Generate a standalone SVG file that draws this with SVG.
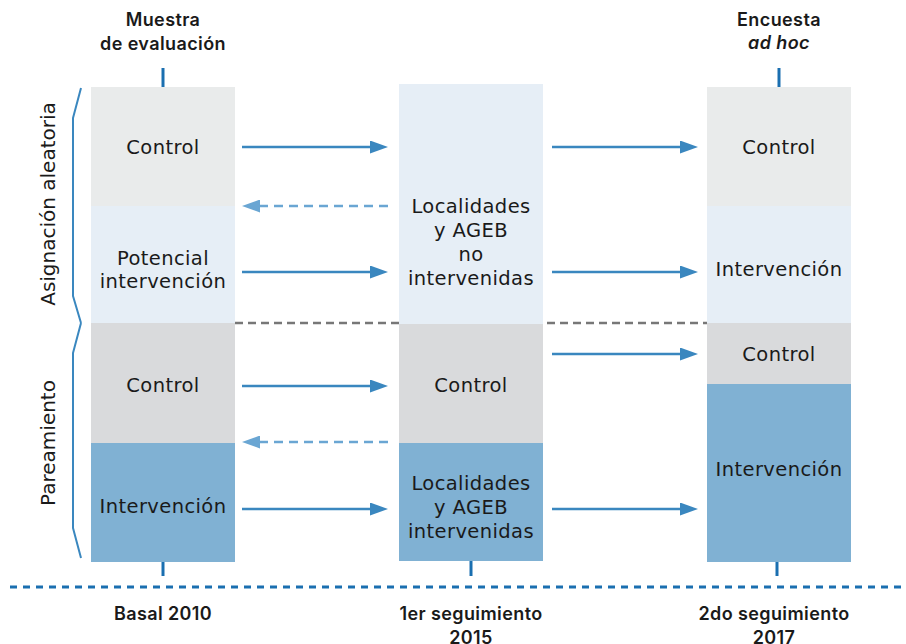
<svg xmlns="http://www.w3.org/2000/svg" width="906" height="644" viewBox="0 0 906 644">
<style>
.t{font-family:"DejaVu Sans","Liberation Sans",sans-serif;font-size:19.5px;fill:#1a1a1a;text-anchor:middle;letter-spacing:0.4px}
.h{font-family:Inter,"DejaVu Sans",sans-serif;font-size:18px;font-weight:600;fill:#1a1a1a;text-anchor:middle;letter-spacing:0.4px}
.side{font-family:"DejaVu Sans","Liberation Sans",sans-serif;font-size:20px;fill:#1a1a1a;text-anchor:middle}
.arr{stroke:#3a87bf;stroke-width:2.5;fill:none}
.darr{stroke:#6aa6d3;stroke-width:2.5;fill:none;stroke-dasharray:9 6}
.tick{stroke:#1a6fb0;stroke-width:3}
.brace{stroke:#3a87bf;stroke-width:2;fill:none;stroke-linejoin:round}
</style>
<defs>
<marker id="ah" markerUnits="userSpaceOnUse" markerWidth="18" markerHeight="13" refX="0" refY="6.5" orient="auto"><path d="M0,0 L18,6.5 L0,13 z" fill="#3a87bf"/></marker>
<marker id="dah" markerUnits="userSpaceOnUse" markerWidth="18" markerHeight="13" refX="0" refY="6.5" orient="auto"><path d="M0,0 L18,6.5 L0,13 z" fill="#6aa6d3"/></marker>
</defs>
<rect width="906" height="644" fill="#ffffff"/>

<!-- headers -->
<g id="header1"><text class="h" x="163" y="26">Muestra</text><text class="h" x="163" y="50">de evaluación</text></g>
<g id="header3"><text class="h" x="779" y="26">Encuesta</text><text class="h" x="779" y="49" font-style="italic" font-weight="500">ad hoc</text></g>

<!-- ticks and timeline -->
<g id="timeline">
<line class="tick" x1="163" y1="68" x2="163" y2="87"/>
<line class="tick" x1="779" y1="68" x2="779" y2="87"/>
<line class="tick" x1="163" y1="562" x2="163" y2="576"/>
<line class="tick" x1="471" y1="561" x2="471" y2="576"/>
<line class="tick" x1="777" y1="562" x2="777" y2="576"/>
<line x1="10" y1="587" x2="906" y2="587" stroke="#1a6fb0" stroke-width="3" stroke-dasharray="7 6"/>
<line x1="235" y1="323" x2="707" y2="323" stroke="#777777" stroke-width="2.5" stroke-dasharray="8 5"/>
</g>

<!-- column 1 -->
<g id="c1-control"><rect x="91" y="87" width="144" height="119" fill="#e9ebeb"/><text class="t" x="163" y="154">Control</text></g>
<g id="c1-potencial"><rect x="91" y="206" width="144" height="117" fill="#e6eef6"/><text class="t" x="163" y="265">Potencial</text><text class="t" x="163" y="288">intervención</text></g>
<g id="c1-control2"><rect x="91" y="323" width="144" height="120" fill="#d9dadc"/><text class="t" x="163" y="392">Control</text></g>
<g id="c1-intervencion"><rect x="91" y="443" width="144" height="119" fill="#80b1d3"/><text class="t" x="163" y="513">Intervención</text></g>

<!-- column 2 -->
<g id="c2-nointervenidas"><rect x="399" y="84" width="144" height="240" fill="#e6eef6"/>
<text class="t" x="471" y="213">Localidades</text><text class="t" x="471" y="237">y AGEB</text><text class="t" x="471" y="261">no</text><text class="t" x="471" y="285">intervenidas</text></g>
<g id="c2-control"><rect x="399" y="324" width="144" height="119" fill="#d9dadc"/><text class="t" x="471" y="392">Control</text></g>
<g id="c2-intervenidas"><rect x="399" y="443" width="144" height="118" fill="#80b1d3"/>
<text class="t" x="471" y="490">Localidades</text><text class="t" x="471" y="514">y AGEB</text><text class="t" x="471" y="538">intervenidas</text></g>

<!-- column 3 -->
<g id="c3-control"><rect x="707" y="87" width="144" height="119" fill="#e9ebeb"/><text class="t" x="779" y="154">Control</text></g>
<g id="c3-intervencion"><rect x="707" y="206" width="144" height="117" fill="#e6eef6"/><text class="t" x="779" y="276">Intervención</text></g>
<g id="c3-control2"><rect x="707" y="323" width="144" height="61" fill="#d9dadc"/><text class="t" x="779" y="361">Control</text></g>
<g id="c3-intervencion2"><rect x="707" y="384" width="144" height="178" fill="#80b1d3"/><text class="t" x="779" y="476">Intervención</text></g>

<!-- side labels -->
<g id="brace-aleatoria"><path class="brace" d="M81,88 L73,118 L73,296 L81,323"/>
<text class="side" transform="translate(55,204) rotate(-90)">Asignación aleatoria</text></g>
<g id="brace-pareamiento"><path class="brace" d="M81,323 L73,353 L73,528 L81,558"/>
<text class="side" transform="translate(55,443) rotate(-90)">Pareamiento</text></g>

<!-- footers -->
<g id="footer1"><text class="h" x="163" y="620">Basal 2010</text></g>
<g id="footer2"><text class="h" x="471" y="620">1er seguimiento</text><text class="h" x="471" y="644">2015</text></g>
<g id="footer3"><text class="h" x="774" y="620">2do seguimiento</text><text class="h" x="774" y="644">2017</text></g>

<!-- connectors -->
<g id="connectors">
<line class="arr" x1="242" y1="147" x2="370" y2="147" marker-end="url(#ah)"/>
<line class="arr" x1="242" y1="272" x2="370" y2="272" marker-end="url(#ah)"/>
<line class="arr" x1="242" y1="386" x2="370" y2="386" marker-end="url(#ah)"/>
<line class="arr" x1="242" y1="509" x2="370" y2="509" marker-end="url(#ah)"/>
<line class="arr" x1="552" y1="147" x2="680" y2="147" marker-end="url(#ah)"/>
<line class="arr" x1="552" y1="272" x2="680" y2="272" marker-end="url(#ah)"/>
<line class="arr" x1="552" y1="354" x2="680" y2="354" marker-end="url(#ah)"/>
<line class="arr" x1="552" y1="509" x2="680" y2="509" marker-end="url(#ah)"/>
<line class="darr" x1="388" y1="206" x2="260" y2="206" marker-end="url(#dah)"/>
<line class="darr" x1="388" y1="442" x2="260" y2="442" marker-end="url(#dah)"/>
</g>
</svg>
